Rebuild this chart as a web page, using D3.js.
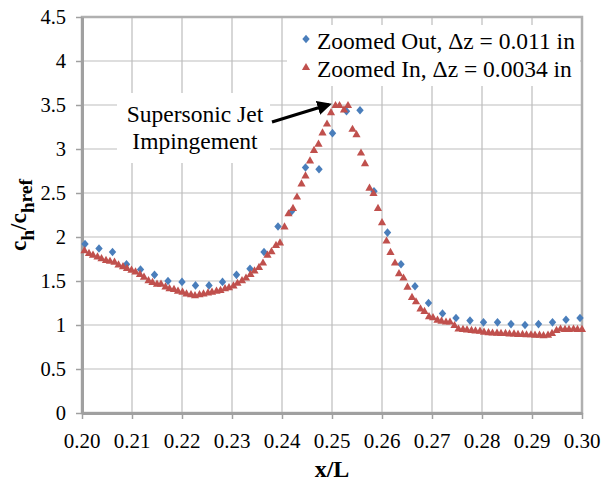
<!DOCTYPE html>
<html><head><meta charset="utf-8">
<script src="https://cdn.jsdelivr.net/npm/d3@7"></script>
</head><body style="margin:0">
<script>
const xTicks = [0.20,0.21,0.22,0.23,0.24,0.25,0.26,0.27,0.28,0.29,0.30];
const yTicks = [0,0.5,1,1.5,2,2.5,3,3.5,4,4.5];
const seriesNames = ["Zoomed Out, \u0394z = 0.011 in","Zoomed In, \u0394z = 0.0034 in"];

const outX = [0.2006,0.2034,0.2061,0.2089,0.2117,0.2145,0.2172,0.2200,0.2227,0.2254,0.2281,0.2309,0.2336,0.2364,0.2392,0.2419,0.2447,0.2474,0.2501,0.2529,0.2556,0.2584,0.2611,0.2638,0.2666,0.2693,0.2721,0.2748,0.2776,0.2803,0.2831,0.2858,0.2886,0.2913,0.2941,0.2968,0.2996];
const outY = [1.92,1.87,1.83,1.69,1.63,1.57,1.50,1.49,1.45,1.45,1.49,1.57,1.64,1.83,2.12,2.29,2.79,2.77,3.18,3.43,3.44,2.52,2.05,1.69,1.44,1.25,1.13,1.08,1.05,1.03,1.03,1.01,1.00,1.01,1.03,1.06,1.08];

const inX = [0.2005,0.2014,0.2022,0.2031,0.2039,0.2048,0.2056,0.2065,0.2073,0.2082,0.2090,0.2099,0.2107,0.2116,0.2124,0.2133,0.2141,0.2150,0.2158,0.2167,0.2175,0.2184,0.2192,0.2201,0.2209,0.2218,0.2226,0.2235,0.2243,0.2252,0.2260,0.2269,0.2277,0.2286,0.2294,0.2303,0.2311,0.2320,0.2328,0.2337,0.2345,0.2354,0.2362,0.2371,0.2379,0.2388,0.2396,0.2405,0.2413,0.2422,0.2430,0.2439,0.2447,0.2456,0.2464,0.2473,0.2481,0.2490,0.2498,0.2507,0.2515,0.2524,0.2532,0.2541,0.2549,0.2558,0.2566,0.2575,0.2583,0.2592,0.2600,0.2609,0.2617,0.2626,0.2634,0.2643,0.2651,0.2660,0.2668,0.2677,0.2685,0.2694,0.2702,0.2711,0.2719,0.2728,0.2736,0.2745,0.2753,0.2762,0.2770,0.2779,0.2787,0.2796,0.2804,0.2813,0.2821,0.2830,0.2838,0.2847,0.2855,0.2864,0.2872,0.2881,0.2889,0.2898,0.2906,0.2915,0.2923,0.2932,0.2940,0.2949,0.2957,0.2966,0.2974,0.2983,0.2991,0.3000];
const inY = [1.85,1.82,1.80,1.78,1.76,1.74,1.73,1.72,1.69,1.67,1.65,1.63,1.61,1.58,1.55,1.51,1.49,1.47,1.47,1.44,1.42,1.41,1.39,1.38,1.36,1.35,1.34,1.35,1.36,1.37,1.38,1.39,1.40,1.42,1.43,1.45,1.48,1.51,1.54,
 1.58,1.62,1.66,1.71,1.80,1.84,1.91,1.94,2.12,2.27,2.33,
 2.46,2.61,2.70,2.87,2.99,3.06,3.19,3.29,3.42,3.50,3.50,3.45,3.50,3.23,3.17,2.96,2.84,2.56,2.50,2.33,
 2.17,1.96,1.83,1.71,1.59,1.54,1.435,1.32,1.27,1.19,1.16,1.10,1.09,1.06,1.05,1.04,1.04,1.00,0.96,0.955,0.95,0.945,0.94,0.935,0.925,0.92,0.915,0.913,0.91,0.91,0.905,0.905,0.90,0.90,0.895,0.895,0.89,0.89,0.885,0.89,0.91,0.945,0.96,0.955,0.955,0.96,0.955,0.955];

const FONT = "Liberation Serif";
const W = 603, H = 481;
const m = {l:82, r:21, t:17, b:68};
const svg = d3.select("body").append("svg").attr("width",W).attr("height",H).style("display","block");
const x = d3.scaleLinear().domain([0.20,0.30]).range([m.l, W-m.r]);
const y = d3.scaleLinear().domain([0,4.5]).range([H-m.b, m.t]);
const x0 = x(0.20), x1 = x(0.30), y0 = y(0), y1 = y(4.5);

function txt(sel){ return sel.append("text").attr("font-family",FONT).attr("fill","#000"); }

// gridlines
const g = svg.append("g");
g.selectAll(".gx").data(xTicks).join("line")
  .attr("x1",d=>x(d)).attr("x2",d=>x(d)).attr("y1",y1).attr("y2",y0)
  .attr("stroke","#bdbdbd").attr("stroke-width",1.2);
g.selectAll(".gy").data(yTicks).join("line")
  .attr("x1",x0).attr("x2",x1).attr("y1",d=>y(d)).attr("y2",d=>y(d))
  .attr("stroke","#bdbdbd").attr("stroke-width",1.2);
svg.append("rect").attr("x",x0).attr("y",y1).attr("width",x1-x0).attr("height",y0-y1)
  .attr("fill","none").attr("stroke","#b0b0b0").attr("stroke-width",2.5);

// axes
const xAxis = d3.axisBottom(x).tickValues(xTicks).tickFormat("").tickSizeInner(6).tickSizeOuter(0);
const yAxis = d3.axisLeft(y).tickValues(yTicks).tickFormat("").tickSizeInner(6).tickSizeOuter(0);
const gx = svg.append("g").attr("transform",`translate(0,${y0})`).call(xAxis);
const gy = svg.append("g").attr("transform",`translate(${x0},0)`).call(yAxis);
[gx,gy].forEach(a=>{
  a.select(".domain").attr("stroke","#a0a0a0").attr("stroke-width",3);
  a.selectAll(".tick line").attr("stroke","#a0a0a0").attr("stroke-width",1.5);
  a.selectAll(".tick text").remove();
});
svg.append("g").selectAll("text").data(xTicks).join("text").attr("font-family",FONT)
  .attr("font-size",21).attr("text-anchor","middle").attr("x",d=>x(d)).attr("y",y0+35)
  .text(d=>d3.format(".2f")(d));
svg.append("g").selectAll("text").data(yTicks).join("text").attr("font-family",FONT)
  .attr("font-size",20.5).attr("text-anchor","end").attr("x",x0-16).attr("y",d=>y(d)+6.5)
  .text(d=>String(d));

// annotation box
svg.append("rect").attr("x",117).attr("y",93).attr("width",153).attr("height",70).attr("fill","#fff");
txt(svg).attr("x",195).attr("y",122).attr("text-anchor","middle").attr("font-size",23.5).text("Supersonic Jet");
txt(svg).attr("x",195).attr("y",149).attr("text-anchor","middle").attr("font-size",23.5).text("Impingement");
svg.append("defs").append("marker").attr("id","ah").attr("viewBox","0 0 10 10").attr("refX",8).attr("refY",5)
  .attr("markerWidth",4.5).attr("markerHeight",4.5).attr("orient","auto")
  .append("path").attr("d","M0,0 L10,5 L0,10 Z").attr("fill","#000");
svg.append("line").attr("x1",272).attr("y1",122).attr("x2",329).attr("y2",104.5)
  .attr("stroke","#000").attr("stroke-width",3.2).attr("marker-end","url(#ah)");

// legend
svg.append("rect").attr("x",287).attr("y",25).attr("width",293).attr("height",61).attr("fill","#fff");
const diamond = "M0,-4.3L3.7,0L0,4.3L-3.7,0Z";
const tri = "M0,-4.1L4.1,3.1L-4.1,3.1Z";
const blue = "#4a7ebb", red = "#c0504d";
svg.append("path").attr("d",diamond).attr("fill",blue).attr("transform","translate(306,39)");
svg.append("path").attr("d",tri).attr("fill",red).attr("transform","translate(306,67)");
txt(svg).attr("x",317).attr("y",49).attr("font-size",23.5).text(seriesNames[0]);
txt(svg).attr("x",317).attr("y",76.5).attr("font-size",23.5).text(seriesNames[1]);

// data points
svg.append("g").selectAll("path").data(outX.map((v,i)=>[v,outY[i]])).join("path")
  .attr("d",diamond).attr("fill",blue).attr("transform",d=>`translate(${x(d[0])},${y(d[1])})`);
svg.append("g").selectAll("path").data(inX.map((v,i)=>[v,inY[i]])).join("path")
  .attr("d",tri).attr("fill",red).attr("transform",d=>`translate(${x(d[0])},${y(d[1])})`);

// axis titles
txt(svg).attr("x",(x0+x1)/2).attr("y",477).attr("text-anchor","middle")
  .attr("font-size",24).attr("font-weight","bold").text("x/L");
const yl = txt(svg).attr("transform",`translate(26,${(y0+y1)/2}) rotate(-90)`)
  .attr("text-anchor","middle").attr("font-size",23).attr("font-weight","bold");
yl.append("tspan").text("c");
yl.append("tspan").attr("font-size",19.5).attr("dy",8).text("h");
yl.append("tspan").attr("dy",-8).text("/c");
yl.append("tspan").attr("font-size",19.5).attr("dy",8).text("h");
yl.append("tspan").attr("font-size",19.5).attr("dy",-2).text("ref");
</script>
</body></html>
